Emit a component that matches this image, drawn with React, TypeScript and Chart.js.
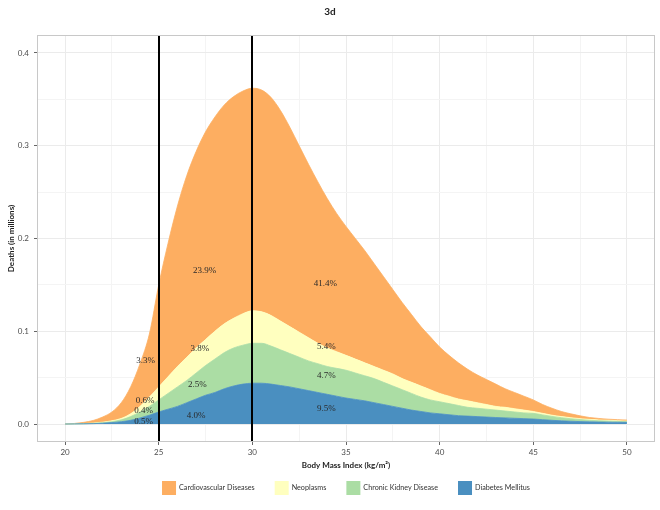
import React, { useEffect, useRef } from "react";
import { Chart, registerables } from "chart.js";

Chart.register(...registerables);

const chartTitle = "3d";
const xAxisTitle = "Body Mass Index (kg/m²)";
const yAxisTitle = "Deaths (in millions)";

const bmi = [
  20, 20.5, 21, 21.5, 22, 22.5, 23, 23.5, 24, 24.5, 25, 25.5, 26, 26.5, 27, 27.5, 28, 28.5, 29, 29.5,
  30, 30.5, 31, 31.5, 32, 32.5, 33, 33.5, 34, 34.5, 35, 35.5, 36, 36.5, 37, 37.5, 38, 38.5, 39, 39.5,
  40, 40.5, 41, 41.5, 42, 42.5, 43, 43.5, 44, 44.5, 45, 45.5, 46, 46.5, 47, 47.5, 48, 48.5, 49, 49.5, 50,
];

// stacked upper edges (cumulative) of each band, in millions of deaths
const cardiovascularTop = [
  0, 0.0006, 0.0018, 0.0038, 0.0075, 0.013, 0.023, 0.04, 0.065, 0.097, 0.15, 0.195, 0.235, 0.268, 0.294, 0.315, 0.331, 0.344, 0.353, 0.359,
  0.362, 0.36, 0.352, 0.338, 0.32, 0.3, 0.28, 0.261, 0.243, 0.227, 0.213, 0.2, 0.187, 0.173, 0.159, 0.145, 0.131, 0.118, 0.105, 0.094,
  0.083, 0.074, 0.066, 0.059, 0.053, 0.048, 0.043, 0.038, 0.034, 0.03, 0.026, 0.021, 0.017, 0.0135, 0.011, 0.0088, 0.007, 0.006, 0.0052, 0.0047, 0.0043,
];
const neoplasmsTop = [
  0, 0.0002, 0.0005, 0.001, 0.002, 0.0035, 0.006, 0.011, 0.019, 0.029, 0.04, 0.051, 0.062, 0.072, 0.082, 0.091, 0.1, 0.108, 0.114, 0.119,
  0.122, 0.121, 0.117, 0.111, 0.105, 0.099, 0.093, 0.087, 0.082, 0.078, 0.074, 0.07, 0.066, 0.062, 0.058, 0.054, 0.049, 0.045, 0.041, 0.037,
  0.033, 0.03, 0.027, 0.025, 0.023, 0.021, 0.019, 0.018, 0.0165, 0.015, 0.0135, 0.0115, 0.0095, 0.008, 0.0068, 0.0058, 0.005, 0.0044, 0.004, 0.0036, 0.0032,
];
const kidneyTop = [
  0, 0.0001, 0.0003, 0.0007, 0.0014, 0.0025, 0.0045, 0.008, 0.013, 0.019, 0.026, 0.033, 0.04, 0.047, 0.055, 0.063, 0.07, 0.077, 0.082, 0.085,
  0.087, 0.087, 0.084, 0.08, 0.076, 0.072, 0.068, 0.065, 0.062, 0.06, 0.058, 0.055, 0.052, 0.049, 0.045, 0.041, 0.037, 0.033, 0.029, 0.026,
  0.024, 0.022, 0.02, 0.018, 0.017, 0.016, 0.015, 0.014, 0.013, 0.012, 0.0115, 0.0098, 0.0082, 0.0068, 0.0057, 0.0048, 0.004, 0.0035, 0.0031, 0.0028, 0.0025,
];
const diabetesTop = [
  0, 0.0001, 0.0002, 0.0004, 0.0008, 0.0015, 0.0025, 0.004, 0.0065, 0.0095, 0.013, 0.016, 0.019, 0.023, 0.027, 0.031, 0.034, 0.038, 0.041, 0.043,
  0.044, 0.044, 0.043, 0.0415, 0.04, 0.038, 0.036, 0.034, 0.032, 0.03, 0.028, 0.0265, 0.025, 0.023, 0.021, 0.019, 0.017, 0.015, 0.0135, 0.012,
  0.011, 0.01, 0.009, 0.0085, 0.008, 0.0075, 0.007, 0.0066, 0.0062, 0.0058, 0.0054, 0.0047, 0.004, 0.0034, 0.003, 0.0026, 0.0023, 0.0021, 0.002, 0.0019, 0.0018,
];

const seriesNames = ["Cardiovascular Diseases", "Neoplasms", "Chronic Kidney Disease", "Diabetes Mellitus"];
const seriesColors = ["#FDAE61", "#FFFFBF", "#ABDDA4", "#4A8FC0"];

const xTickValues = [20, 22.5, 25, 27.5, 30, 32.5, 35, 37.5, 40, 42.5, 45, 47.5, 50];
const xMajorValues = [20, 25, 30, 35, 40, 45, 50];
const xMajorLabels = ["20", "25", "30", "35", "40", "45", "50"];
const yTickValues = [0, 0.05, 0.1, 0.15, 0.2, 0.25, 0.3, 0.35, 0.4];
const yMajorValues = [0, 0.1, 0.2, 0.3, 0.4];
const yMajorLabels = ["0.0", "0.1", "0.2", "0.3", "0.4"];

const bmiCutoffs = [25, 30];

const shareLabelText = ["3.3%", "0.6%", "0.4%", "0.5%", "23.9%", "3.8%", "2.5%", "4.0%", "41.4%", "5.4%", "4.7%", "9.5%"];
const shareLabelX = [24.3, 24.27, 24.2, 24.2, 27.45, 27.2, 27.07, 27.0, 33.9, 33.95, 33.95, 33.95];
const shareLabelY = [0.068, 0.025, 0.014, 0.003, 0.165, 0.081, 0.042, 0.0094, 0.151, 0.0836, 0.052, 0.0165];

const SANS = "Lato, 'Liberation Sans', sans-serif";
const SERIF = "'Liberation Serif', 'DejaVu Serif', serif";

function findIndex(list: number[], v: number) {
  for (let i = 0; i < list.length; i++) if (Math.abs(list[i] - v) < 1e-9) return i;
  return -1;
}

const decorPlugin = {
  id: "decor",
  afterDatasetsDraw(chart: any) {
    const { ctx, chartArea, scales } = chart;
    const xs = scales.x;
    const ys = scales.y;
    ctx.save();
    ctx.strokeStyle = "#000";
    ctx.lineWidth = 2;
    bmiCutoffs.forEach((c) => {
      const px = Math.round(xs.getPixelForValue(c));
      ctx.beginPath();
      ctx.moveTo(px, chartArea.top);
      ctx.lineTo(px, chartArea.bottom);
      ctx.stroke();
    });
    ctx.fillStyle = "#2a2a2a";
    ctx.font = `9px ${SERIF}`;
    ctx.textAlign = "center";
    ctx.textBaseline = "middle";
    shareLabelText.forEach((t, i) => {
      ctx.fillText(t, xs.getPixelForValue(shareLabelX[i]), ys.getPixelForValue(shareLabelY[i]));
    });
    ctx.strokeStyle = "#C8C8C8";
    ctx.lineWidth = 1;
    ctx.strokeRect(
      Math.round(chartArea.left) + 0.5,
      Math.round(chartArea.top) + 0.5,
      Math.round(chartArea.right - chartArea.left) - 1,
      Math.round(chartArea.bottom - chartArea.top) - 1
    );
    ctx.restore();
  },
  afterDraw(chart: any) {
    const { ctx, chartArea, width } = chart;
    ctx.save();
    ctx.fillStyle = "#222";
    ctx.font = `bold 10px ${SANS}`;
    ctx.textAlign = "center";
    ctx.textBaseline = "middle";
    ctx.fillText(chartTitle, width / 2, 12);
    ctx.font = `7.2px ${SANS}`;
    const box = 14;
    const gap = 3;
    const itemGap = 20;
    const widths = seriesNames.map((n) => ctx.measureText(n).width);
    const total = widths.reduce((a, w) => a + box + gap + w, 0) + itemGap * (seriesNames.length - 1);
    let x = (chartArea.left + chartArea.right) / 2 - total / 2;
    const cy = 488;
    ctx.textAlign = "left";
    seriesNames.forEach((n, i) => {
      ctx.fillStyle = seriesColors[i];
      ctx.fillRect(x, cy - box / 2, box, box);
      ctx.fillStyle = "#333";
      ctx.fillText(n, x + box + gap, cy);
      x += box + gap + widths[i] + itemGap;
    });
    ctx.restore();
  },
};

export default function App() {
  const canvasRef = useRef<HTMLCanvasElement | null>(null);

  useEffect(() => {
    const canvas = canvasRef.current;
    if (!canvas) return;
    const tops = [cardiovascularTop, neoplasmsTop, kidneyTop, diabetesTop];
    const order = [3, 2, 1, 0];
    const datasets = order.map((si, k) => ({
      label: seriesNames[si],
      data: bmi.map((b, i) => ({ x: b, y: tops[si][i] })),
      backgroundColor: seriesColors[si],
      borderColor: seriesColors[si],
      borderWidth: 0.8,
      pointRadius: 0,
      cubicInterpolationMode: "monotone" as const,
      fill: k === 0 ? "origin" : "-1",
    }));

    const isMajorX = (c: any) => c.tick && findIndex(xMajorValues, c.tick.value) >= 0;
    const isMajorY = (c: any) => c.tick && findIndex(yMajorValues, c.tick.value) >= 0;

    const chart = new Chart(canvas, {
      type: "line",
      data: { datasets },
      options: {
        animation: false,
        responsive: false,
        maintainAspectRatio: false,
        events: [],
        layout: { padding: { top: 35, right: 5, left: 0, bottom: 0 } },
        plugins: {
          legend: { display: false },
          title: { display: false },
          tooltip: { enabled: false },
        },
        scales: {
          x: {
            type: "linear",
            min: 18.5,
            max: 51.5,
            afterBuildTicks: (s: any) => {
              s.ticks = xTickValues.map((v) => ({ value: v }));
            },
            afterFit: (s: any) => {
              s.height = 68;
            },
            border: { display: false },
            grid: {
              color: (c: any) => (isMajorX(c) ? "#EBEBEB" : "#F4F4F4"),
              tickColor: (c: any) => (isMajorX(c) ? "#666" : "rgba(0,0,0,0)"),
              tickLength: 3,
              lineWidth: 1,
            },
            ticks: {
              autoSkip: false,
              maxRotation: 0,
              padding: 3,
              color: "#4D4D4D",
              font: { family: SANS, size: 8 },
              callback: (v: any) => {
                const i = findIndex(xMajorValues, Number(v));
                return i >= 0 ? xMajorLabels[i] : "";
              },
            },
            title: {
              display: true,
              text: xAxisTitle,
              color: "#222",
              font: { family: SANS, size: 8, weight: "bold" },
              padding: { top: 0, bottom: 40 },
            },
          },
          y: {
            type: "linear",
            min: -0.0194,
            max: 0.4194,
            afterBuildTicks: (s: any) => {
              s.ticks = yTickValues.map((v) => ({ value: v }));
            },
            afterFit: (s: any) => {
              s.width = 37;
            },
            border: { display: false },
            grid: {
              color: (c: any) => (isMajorY(c) ? "#EBEBEB" : "#F4F4F4"),
              tickColor: (c: any) => (isMajorY(c) ? "#666" : "rgba(0,0,0,0)"),
              tickLength: 3,
              lineWidth: 1,
            },
            ticks: {
              autoSkip: false,
              padding: 5,
              color: "#4D4D4D",
              font: { family: SANS, size: 8 },
              callback: (v: any) => {
                const i = findIndex(yMajorValues, Number(v));
                return i >= 0 ? yMajorLabels[i] : "";
              },
            },
            title: {
              display: true,
              text: yAxisTitle,
              color: "#222",
              font: { family: SANS, size: 8, weight: "bold" },
              padding: { top: 7, bottom: 0 },
            },
          },
        },
      },
      plugins: [decorPlugin],
    });
    return () => chart.destroy();
  }, []);

  return (
    <div style={{ position: "fixed", left: 0, top: 0, width: 660, height: 510, background: "#fff" }}>
      <canvas ref={canvasRef} width={660} height={510} style={{ width: 660, height: 510, display: "block" }} />
    </div>
  );
}
